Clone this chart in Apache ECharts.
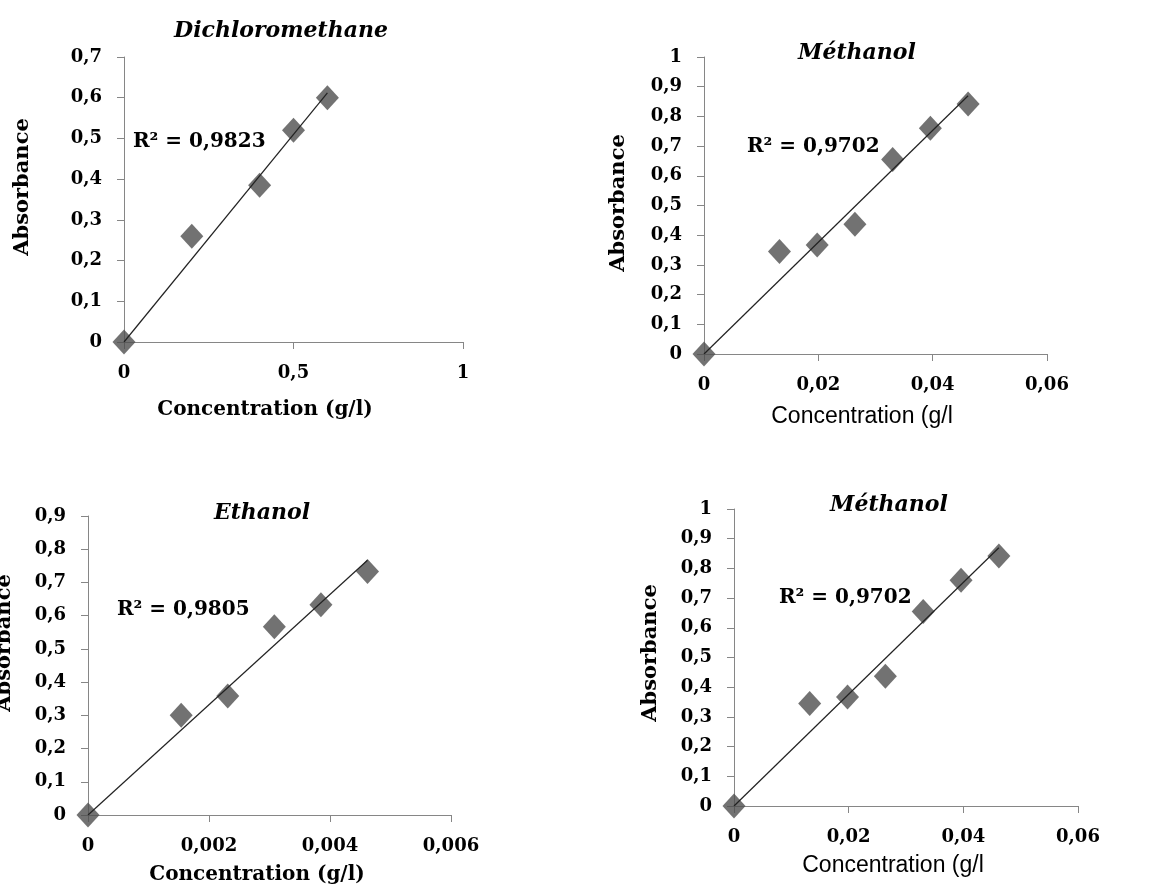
<!DOCTYPE html>
<html>
<head>
<meta charset="utf-8">
<script src="https://cdn.jsdelivr.net/npm/echarts@6/dist/echarts.min.js"></script>
<style>
  html, body { margin: 0; padding: 0; background: #ffffff; }
  #chart { width: 1152px; height: 889px; }
</style>
</head>
<body>
<div id="chart"></div>
<script>
// ---- data ----
const dcmConc = [0, 0.2, 0.4, 0.5, 0.6];
const dcmAbs  = [0, 0.26, 0.385, 0.52, 0.60];
const metConc = [0, 0.0132, 0.0198, 0.0264, 0.033, 0.0396, 0.0462];
const metAbs  = [0, 0.345, 0.367, 0.437, 0.655, 0.760, 0.842];
const ethConc = [0, 0.00154, 0.00231, 0.00308, 0.00385, 0.00462];
const ethAbs  = [0, 0.30, 0.358, 0.567, 0.633, 0.733];

const titles   = ['Dichloromethane', 'Méthanol', 'Ethanol', 'Méthanol'];
const r2Labels = ['R² = 0,9823', 'R² = 0,9702', 'R² = 0,9805', 'R² = 0,9702'];
const xNames   = ['Concentration (g/l)', 'Concentration (g/l', 'Concentration (g/l)', 'Concentration (g/l'];
const yName    = 'Absorbance';
const xMax      = [1, 0.06, 0.006, 0.06];
const xInterval = [0.5, 0.02, 0.002, 0.02];
const yMax      = [0.7, 1, 0.9, 1];

const datasets = [
  [dcmConc, dcmAbs],
  [metConc, metAbs],
  [ethConc, ethAbs],
  [metConc, metAbs]
];

// ---- layout ----
const grids = [
  { left: 124, top: 57,  width: 339, height: 285 },
  { left: 704, top: 57,  width: 343, height: 297 },
  { left: 88,  top: 516, width: 363, height: 299 },
  { left: 734, top: 509, width: 344, height: 297 }
];
const titlePos = [[281, 31], [857, 53], [262, 513], [889, 505]];
const r2Pos    = [[133, 142], [747, 147], [117, 610], [779, 598]];
const xNamePos = [[265, 410], [862, 417], [257, 875], [893, 866]];
const yNamePos = [[23, 187], [619, 203], [5, 643], [651, 653]];
const xNameSans = [false, true, false, true];

const serif = "'DejaVu Serif', 'Liberation Serif', serif";
const axisGray = '#868686';

function fmt(v) {
  return String(+(+v).toFixed(6)).replace('.', ',');
}

// least-squares line through the origin (Excel trendline with intercept 0)
function trend(xs, ys) {
  let sxy = 0, sxx = 0, xm = 0;
  for (let i = 0; i < xs.length; i++) {
    sxy += xs[i] * ys[i];
    sxx += xs[i] * xs[i];
    xm = Math.max(xm, xs[i]);
  }
  const k = sxy / sxx;
  return [[0, 0], [xm, k * xm]];
}

const option = {
  backgroundColor: '#ffffff',
  animation: false,
  grid: grids.map(g => Object.assign({ outerBoundsMode: 'none', containLabel: false }, g)),
  xAxis: grids.map((g, i) => ({
    type: 'value',
    gridIndex: i,
    min: 0,
    max: xMax[i],
    interval: xInterval[i],
    splitLine: { show: false },
    axisLine: { show: true, lineStyle: { color: axisGray, width: 1 } },
    axisTick: { show: true, length: 7, lineStyle: { color: axisGray } },
    axisLabel: {
      margin: 22,
      formatter: fmt,
      color: '#000',
      fontFamily: serif,
      fontWeight: 'bold',
      fontSize: 18
    }
  })),
  yAxis: grids.map((g, i) => ({
    type: 'value',
    gridIndex: i,
    min: 0,
    max: yMax[i],
    interval: 0.1,
    splitLine: { show: false },
    axisLine: { show: true, lineStyle: { color: axisGray, width: 1 } },
    axisTick: { show: true, length: 7, lineStyle: { color: axisGray } },
    axisLabel: {
      margin: 22,
      formatter: fmt,
      color: '#000',
      fontFamily: serif,
      fontWeight: 'bold',
      fontSize: 18
    }
  })),
  series: [],
  graphic: []
};

datasets.forEach((d, i) => {
  const [xs, ys] = d;
  option.series.push({
    type: 'line',
    xAxisIndex: i,
    yAxisIndex: i,
    data: trend(xs, ys),
    showSymbol: false,
    symbol: 'none',
    lineStyle: { color: '#222222', width: 1.2 },
    silent: true,
    z: 3
  });
  option.series.push({
    type: 'scatter',
    xAxisIndex: i,
    yAxisIndex: i,
    data: xs.map((x, j) => [x, ys[j]]),
    symbol: 'diamond',
    symbolSize: [23, 25],
    itemStyle: { color: '#4f4f4f' },
    z: 2
  });

  option.graphic.push({
    type: 'text', x: titlePos[i][0], y: titlePos[i][1],
    style: {
      text: titles[i], align: 'center', verticalAlign: 'middle',
      font: "italic bold 22px " + serif, fill: '#000'
    }
  });
  option.graphic.push({
    type: 'text', x: r2Pos[i][0], y: r2Pos[i][1],
    style: {
      text: r2Labels[i], align: 'left', verticalAlign: 'middle',
      font: "bold 20px " + serif, fill: '#000'
    }
  });
  option.graphic.push({
    type: 'text', x: xNamePos[i][0], y: xNamePos[i][1],
    style: {
      text: xNames[i], align: 'center', verticalAlign: 'middle',
      font: xNameSans[i] ? "23px 'Liberation Sans', Arial, sans-serif" : "bold 20px " + serif,
      fill: '#000'
    }
  });
  option.graphic.push({
    type: 'text', x: yNamePos[i][0], y: yNamePos[i][1], rotation: Math.PI / 2,
    style: {
      text: yName, align: 'center', verticalAlign: 'middle',
      font: "bold 21px " + serif, fill: '#000'
    }
  });
});

const chart = echarts.init(document.getElementById('chart'), null, { renderer: 'canvas' });
chart.setOption(option);
</script>
</body>
</html>
